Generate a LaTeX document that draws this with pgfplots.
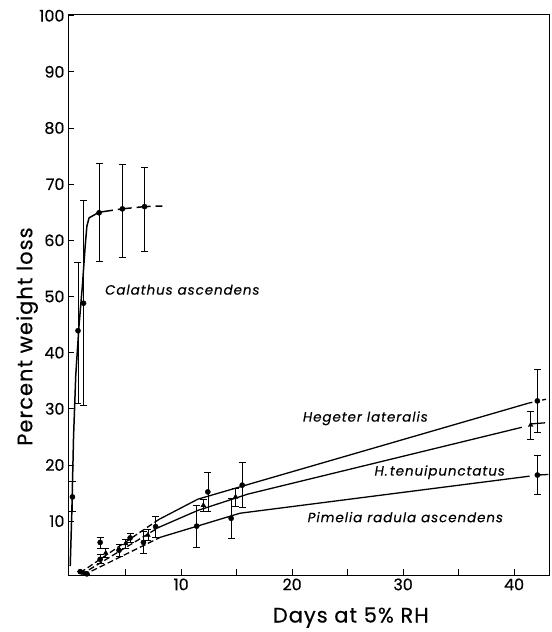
\documentclass[border=0pt]{standalone}
\usepackage{pgfplots}
\pgfplotsset{compat=1.18}
\usepackage{fontspec}
\setmainfont{Poppins}[FakeBold=0.4]
\newfontfamily\labfont[LetterSpace=7, FakeBold=0.3]{Poppins}
\newfontfamily\axfont[LetterSpace=5, FakeBold=0.5]{Poppins}

% Calathus ascendens: x, y, upper error, lower error
\pgfplotstableread{
x    y     ep    em
0.2  14.3  2.7   2.5
0.7  43.9  12.1  12.9
1.2  48.8  18.4  18.1
2.6  64.9  8.9   8.7
4.7  65.6  7.9   8.6
6.7  66.0  7.0   8.0
}\calathus
% Hegeter lateralis
\pgfplotstableread{
x    y     e
0.9  1.0   0
2.7  6.2   1.0
5.4  7.0   0.8
7.7  9.0   1.8
12.4 15.2  3.4
15.5 16.4  4.0
42.1 31.4  5.6
}\hegeter
% H. tenuipunctatus
\pgfplotstableread{
x    y     e
1.2  0.8   0
3.2  4.3   0.8
5.0  6.0   0.8
7.0  7.5   1.0
12.0 12.8  1.0
14.9 14.3  1.6
41.5 27.1  2.5
}\tenui
% Pimelia radula ascendens
\pgfplotstableread{
x    y     e
1.5  0.6   0
2.7  3.2   0.8
4.4  4.8   1.0
6.6  6.2   2.0
11.4 9.1   3.7
14.5 10.5  3.5
42.1 18.2  3.5
}\pimelia

\begin{document}
\begin{tikzpicture}
\begin{axis}[
  scale only axis, width=481bp, height=561bp,
  xmin=-0.2, xmax=43.15, ymin=0.4, ymax=100.3,
  axis line style={line width=0.9pt},
  tick align=inside, major tick length=6bp,
  xtick pos=bottom, ytick pos=left,
  xtick={5,10,...,40}, xticklabels={,10,,20,,30,,40},
  ytick={10,20,...,100},
  tick style={black, line width=0.8pt},
  /pgf/number format/assume math mode=true,
  ticklabel style={font=\fontsize{16}{16}\selectfont},
  xlabel={Days at 5\% RH}, ylabel={Percent weight loss},
  label style={font=\axfont\fontsize{21}{21}\selectfont},
  xlabel style={at={(axis description cs:0.588,-0.076)}, anchor=center},
  ylabel style={at={(axis description cs:-0.085,0.425)}, anchor=center},
  error bars/error bar style={line width=0.6pt},
  error bars/error mark options={rotate=90, line width=0.6pt, mark size=3.5bp},
]
% fitted curves
\addplot[black, line width=1.5pt, no marks] coordinates {
  (0,2) (0.15,12) (0.3,25) (0.5,36) (0.8,45) (1.1,52) (1.35,59) (1.5,62.5) (1.7,64) (2.6,65)};
\addplot[black, line width=1.5pt, no marks, dash pattern=on 14pt off 5pt] coordinates {
  (2.6,65) (4.7,65.6) (6.7,66) (8.3,66.1)};

\addplot[black, line width=1.3pt, no marks, dash pattern=on 6pt off 3pt] coordinates {(0.9,0.8) (8,10.3)};
\addplot[black, line width=1.3pt, no marks] coordinates {(8,10.3) (11.5,13.9) (16,16.5) (41.3,31.0)};
\addplot[black, line width=1.3pt, no marks, dash pattern=on 4pt off 3pt] coordinates {(41.3,31.0) (43.1,31.8)};

\addplot[black, line width=1.3pt, no marks, dash pattern=on 6pt off 3pt] coordinates {(1.0,0.5) (8,8.9)};
\addplot[black, line width=1.3pt, no marks] coordinates {(8,8.9) (11.5,11.9) (16,14.8) (40.7,26.7)};
\addplot[black, line width=1.3pt, no marks] coordinates {(41.5,27.3) (42.8,27.5)};

\addplot[black, line width=1.3pt, no marks, dash pattern=on 6pt off 3pt] coordinates {(1.2,0.4) (8.1,7.1)};
\addplot[black, line width=1.3pt, no marks] coordinates {(8.1,7.1) (15.3,11.4) (41.4,18.0)};
\addplot[black, line width=1.3pt, no marks] coordinates {(42.1,18.2) (43.1,18.3)};

% observations
\addplot[black, only marks, mark=*, mark size=2.6pt,
  error bars/.cd, y dir=both, y explicit]
  table[x=x, y=y, y error plus=ep, y error minus=em] {\calathus};
\addplot[black, only marks, mark=*, mark size=2.6pt,
  error bars/.cd, y dir=both, y explicit]
  table[x=x, y=y, y error=e] {\hegeter};
\addplot[black, only marks, mark=triangle*, mark size=2.8pt,
  error bars/.cd, y dir=both, y explicit]
  table[x=x, y=y, y error=e] {\tenui};
\addplot[black, only marks, mark=*, mark size=2.6pt,
  error bars/.cd, y dir=both, y explicit]
  table[x=x, y=y, y error=e] {\pimelia};

\node[font=\labfont\itshape\fontsize{13.5}{13.5}\selectfont] at (axis cs:10.1,51.2) {Calathus ascendens};
\node[font=\labfont\itshape\fontsize{13.5}{13.5}\selectfont] at (axis cs:26.6,28.3) {Hegeter lateralis};
\node[font=\labfont\itshape\fontsize{13.5}{13.5}\selectfont] at (axis cs:33.3,18.7) {H.\,tenuipunctatus};
\node[font=\labfont\itshape\fontsize{13.5}{13.5}\selectfont] at (axis cs:30.2,10.7) {Pimelia radula ascendens};
\end{axis}
\pgfresetboundingbox
\path (current axis.south west) ++(-68bp,-57bp) rectangle ([shift={(2bp,14bp)}]current axis.north east);
\end{tikzpicture}
\end{document}
